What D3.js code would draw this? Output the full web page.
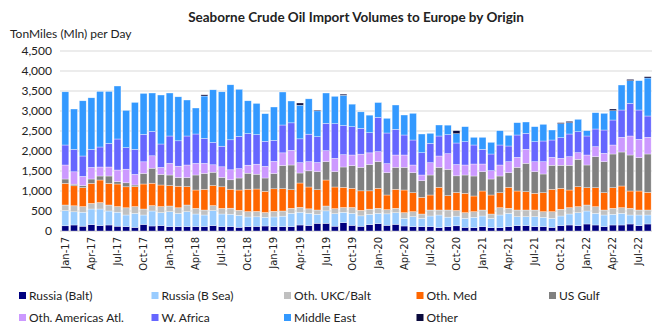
<!DOCTYPE html>
<html>
<head>
<meta charset="utf-8">
<script src="https://cdn.jsdelivr.net/npm/d3@7"></script>
<style>
  body { margin: 0; background: #fff; }
  text { font-family: Lato, "Open Sans", sans-serif; fill: #222; }
</style>
</head>
<body>
<svg id="chart" width="669" height="334"></svg>
<script>
// ---------- data (TonMiles, Mln per day) ----------
const months = [
  "Jan-17","Feb-17","Mar-17","Apr-17","May-17","Jun-17","Jul-17","Aug-17","Sep-17","Oct-17","Nov-17","Dec-17",
  "Jan-18","Feb-18","Mar-18","Apr-18","May-18","Jun-18","Jul-18","Aug-18","Sep-18","Oct-18","Nov-18","Dec-18",
  "Jan-19","Feb-19","Mar-19","Apr-19","May-19","Jun-19","Jul-19","Aug-19","Sep-19","Oct-19","Nov-19","Dec-19",
  "Jan-20","Feb-20","Mar-20","Apr-20","May-20","Jun-20","Jul-20","Aug-20","Sep-20","Oct-20","Nov-20","Dec-20",
  "Jan-21","Feb-21","Mar-21","Apr-21","May-21","Jun-21","Jul-21","Aug-21","Sep-21","Oct-21","Nov-21","Dec-21",
  "Jan-22","Feb-22","Mar-22","Apr-22","May-22","Jun-22","Jul-22","Aug-22"
];

const tickLabels = [
  "Jan-17","Apr-17","Jul-17","Oct-17","Jan-18","Apr-18","Jul-18","Oct-18",
  "Jan-19","Apr-19","Jul-19","Oct-19","Jan-20","Apr-20","Jul-20","Oct-20",
  "Jan-21","Apr-21","Jul-21","Oct-21","Jan-22","Apr-22","Jul-22"
];

const yTicks = [0, 500, 1000, 1500, 2000, 2500, 3000, 3500, 4000, 4500];

const russiaBalt = [
  130,150,120,160,135,150,120,110,90,165,125,135,
  110,110,110,110,110,135,110,110,92,110,115,125,
  109,108,108,150,138,192,192,120,208,142,117,158,
  183,142,167,125,108,108,108,83,108,130,90,83,
  108,83,83,108,133,133,108,108,90,133,150,133,
  175,150,108,150,150,175,133,175
];
const russiaBSea = [
  380,330,350,390,415,350,350,290,350,235,375,325,
  375,330,375,315,290,375,315,310,300,240,240,217,
  242,263,334,320,304,225,312,313,259,300,262,259,
  259,287,291,192,250,209,267,317,238,241,227,259,
  267,234,317,334,225,225,250,234,227,242,275,325,
  325,292,292,267,292,225,267,225
];
const othUkcBalt = [
  140,150,140,140,160,150,140,180,170,150,135,150,
  140,140,165,140,125,125,140,150,125,135,135,121,
  141,129,125,122,112,108,121,125,121,146,138,129,
  125,104,109,141,125,108,150,125,179,141,141,141,
  150,108,183,125,167,167,167,141,166,167,158,150,
  150,166,125,150,141,167,125,125
];
const othMed = [
  540,500,475,500,565,540,565,525,500,625,560,540,
  510,540,460,460,515,500,540,475,508,560,560,529,
  563,558,466,608,546,508,650,542,504,479,487,458,
  500,367,475,567,475,417,375,567,358,450,484,392,
  475,475,375,525,475,458,417,475,559,525,442,500,
  433,475,433,516,542,433,475,442
];
const usGulf = [
  110,40,50,110,100,185,60,100,40,265,375,265,
  265,215,225,375,400,335,235,235,300,400,370,333,
  383,579,617,250,404,450,458,383,508,566,588,658,
  666,558,550,567,500,416,500,500,659,417,458,500,
  483,400,417,366,592,709,541,467,600,575,617,684,
  567,775,775,842,850,900,833,958
];
const othAmericas = [
  350,310,230,290,225,225,290,340,265,290,310,175,
  290,285,315,290,250,185,265,250,234,200,250,292,
  304,317,367,258,229,229,275,334,308,267,329,292,
  250,225,308,308,192,142,308,283,391,283,250,300,
  192,208,275,275,250,350,250,308,200,175,216,166,
  250,250,209,225,367,475,459,417
];
const wAfrica = [
  500,560,510,450,500,590,775,540,625,685,610,585,
  685,635,725,735,625,560,515,750,808,790,740,625,
  525,696,687,596,688,646,684,866,730,708,646,504,
  859,767,642,500,625,558,484,500,475,538,583,475,
  367,417,500,392,558,400,500,517,433,516,567,525,
  475,442,583,625,683,817,733,533
];
const middleEast = [
  1330,1010,1380,1290,1390,1300,1325,930,1175,1025,960,1225,
  1075,1100,900,650,1060,1315,1360,1375,1175,820,780,691,
  833,825,546,842,883,646,758,684,754,563,412,438,
  370,367,608,500,667,467,250,275,238,233,375,192,
  300,292,358,267,308,283,375,417,250,350,283,309,
  133,408,417,233,625,566,733,950
];
const other = [
  0,0,0,0,0,0,0,0,0,0,0,0,
  0,0,0,0,30,0,0,0,0,0,0,0,
  0,0,0,54,0,21,0,0,29,0,0,0,
  0,0,0,0,0,0,0,0,0,75,0,0,
  0,0,0,0,0,0,0,0,0,25,34,0,
  0,0,0,42,0,34,0,33
];

const seriesNames = ["Russia (Balt)","Russia (B Sea)","Oth. UKC/Balt","Oth. Med","US Gulf",
                     "Oth. Americas Atl.","W. Africa","Middle East","Other"];
const seriesValues = [russiaBalt, russiaBSea, othUkcBalt, othMed, usGulf,
                      othAmericas, wAfrica, middleEast, other];
const colors = ["#000080","#99ccff","#c0c0c0","#ff6600","#808080",
                "#cc99ff","#6666ff","#3399ff","#0a0a3c"];

// ---------- table for d3.stack ----------
const rows = months.map((m, i) => {
  const r = {month: m};
  seriesNames.forEach((s, k) => r[s] = seriesValues[k][i]);
  return r;
});
const stacked = d3.stack().keys(seriesNames)(rows);

// ---------- chart ----------
const svg = d3.select("#chart");

const x = d3.scaleBand()
  .domain(months)
  .range([61, 652])
  .paddingInner(0.2)
  .paddingOuter(0.1);

const y = d3.scaleLinear()
  .domain([0, 4500])
  .range([231, 51]);

// gridlines
svg.append("g")
  .selectAll("line")
  .data(yTicks)
  .join("line")
  .attr("x1", 60).attr("x2", 652)
  .attr("y1", d => y(d)).attr("y2", d => y(d))
  .attr("stroke", d => d === 0 ? "#bfbfbf" : "#d9d9d9")
  .attr("stroke-width", 1);

// y labels
svg.append("g")
  .selectAll("text")
  .data(yTicks)
  .join("text")
  .attr("x", 52)
  .attr("y", d => y(d) + 4)
  .attr("text-anchor", "end")
  .style("font-size", "12px")
  .text(d => d3.format(",")(d));

// bars
svg.append("g")
  .selectAll("g")
  .data(stacked)
  .join("g")
  .attr("fill", (d, i) => colors[i])
  .selectAll("rect")
  .data(d => d)
  .join("rect")
  .attr("x", d => x(d.data.month))
  .attr("width", x.bandwidth())
  .attr("y", d => y(d[1]))
  .attr("height", d => Math.max(0, y(d[0]) - y(d[1])))
  .attr("stroke", "#ffffff")
  .attr("stroke-width", 0.5)
  .attr("stroke-opacity", 0.7);

// x labels, rotated
const xAxis = svg.append("g")
  .attr("transform", "translate(0,234)")
  .call(d3.axisBottom(x).tickValues(tickLabels).tickSize(0).tickPadding(0));
xAxis.select(".domain").remove();
xAxis.selectAll("text")
  .attr("transform", "rotate(-90)")
  .attr("x", -3)
  .attr("y", 0)
  .attr("dy", "0.35em")
  .attr("text-anchor", "end")
  .style("font-family", "'DejaVu Sans', Verdana, sans-serif")
  .style("font-size", "10px")
  .style("fill", "#222");

// titles
svg.append("text")
  .attr("x", 356)
  .attr("y", 22)
  .attr("text-anchor", "middle")
  .style("font-size", "13.5px")
  .style("font-weight", "bold")
  .text("Seaborne Crude Oil Import Volumes to Europe by Origin");

svg.append("text")
  .attr("x", 10)
  .attr("y", 38)
  .style("font-size", "12px")
  .text("TonMiles (Mln) per Day");

// legend
const legend = svg.append("g")
  .selectAll("g")
  .data(seriesNames)
  .join("g")
  .attr("transform", (d, i) => `translate(${19 + (i % 5) * 132.5},${i < 5 ? 296 : 318})`);

legend.append("rect")
  .attr("x", 0).attr("y", -4)
  .attr("width", 7).attr("height", 7)
  .attr("fill", (d, i) => colors[i]);

legend.append("text")
  .attr("x", 10)
  .attr("y", 4)
  .style("font-size", "12px")
  .text(d => d);
</script>
</body>
</html>
